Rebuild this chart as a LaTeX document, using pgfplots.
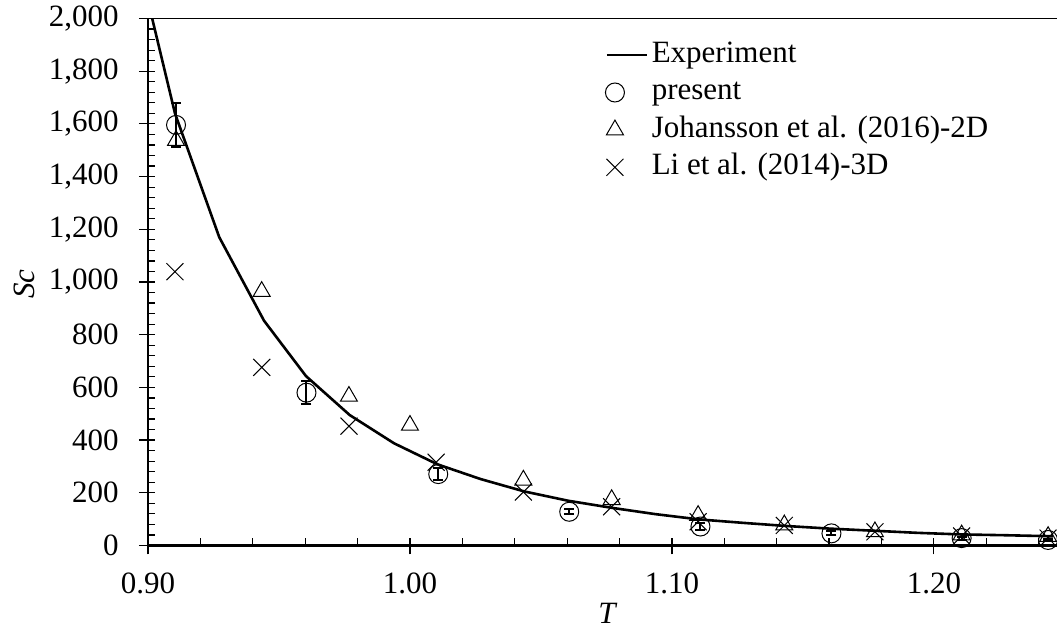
\documentclass[border=0pt]{standalone}
\usepackage{fontspec}
\setmainfont{Liberation Serif}
\usepackage{pgfplots}
\pgfplotsset{compat=1.18}
\pgfplotsset{
  lineleg/.style={legend image code/.code={\draw[##1] (0pt,0pt) -- (20pt,0pt);}},
  markleg/.style={legend image code/.code={\path (0pt,0pt) (20pt,0pt);
     \draw[mark repeat=2, mark phase=2, ##1] plot coordinates {(0pt,0pt) (4pt,0pt) (20pt,0pt)};}},
}
\begin{document}
\begin{tikzpicture}[font=\fontsize{15.5pt}{18.6pt}\selectfont]
\useasboundingbox (-74pt,-42.25pt) rectangle (454.5pt,272.75pt);
\begin{axis}[
  at={(0pt,0pt)}, anchor=south west,
  scale only axis, width=454.5pt, height=263.5pt,
  xmin=0.9, xmax=1.247, ymin=0, ymax=2000,
  axis x line*=bottom, axis y line*=left,
  x axis line style={-, line width=1.1pt},
  y axis line style={-, line width=1.1pt},
  xtick={0.9,1.0,1.1,1.2},
  minor xtick={0.92,0.94,0.96,0.98,1.02,1.04,1.06,1.08,1.12,1.14,1.16,1.18,1.22,1.24},
  ytick={0,200,400,600,800,1000,1200,1400,1600,1800,2000},
  minor y tick num=4,
  tick align=inside,
  major tick length=3.5pt, minor tick length=3.5pt,
  tick style={line width=0.6pt, black},
  extra x ticks={0.9,1.0,1.1,1.2}, extra x tick labels={},
  extra y ticks={0,200,400,600,800,1000,1200,1400,1600,1800,2000}, extra y tick labels={},
  extra tick style={tick align=outside, major tick length=4.5pt},
  xticklabel style={font=\fontsize{15.5pt}{18.6pt}\selectfont, inner sep=0pt, yshift=-13.5pt,
    /pgf/number format/.cd, fixed, fixed zerofill, precision=2, assume math mode=true},
  yticklabel style={font=\fontsize{15.5pt}{18.6pt}\selectfont, inner sep=0pt, xshift=-14.5pt,
    /pgf/number format/.cd, fixed, 1000 sep={,}, assume math mode=true},
  scaled ticks=false,
  xlabel={\textit{T}},
  xlabel style={at={(axis description cs:0.506,0)}, anchor=north, inner sep=0pt, yshift=-28.9pt,
    font=\fontsize{15.5pt}{18.6pt}\selectfont},
  ylabel={\textit{Sc}},
  ylabel style={at={(axis description cs:-0.1243,0.496)}, anchor=south, inner sep=0pt,
    font=\fontsize{15.5pt}{18.6pt}\selectfont},
  clip mode=individual,
  legend style={at={(0.5028,0.9668)}, anchor=north west, draw=none, fill=none,
    inner sep=0pt, row sep=0pt, column sep=0pt,
    font=\fontsize{15.5pt}{18.6pt}\selectfont,
    nodes={inner sep=1.75pt, text height=11.2pt, text depth=4pt}},
  legend cell align=left,
]
\addplot[black, line width=1.3pt, mark=none, lineleg]
  coordinates {
  (0.9016,2000) (0.9103,1640) (0.9272,1170) (0.9443,853) (0.9603,643)
  (0.977,495) (0.9939,388) (1.0105,308) (1.027,252) (1.0437,205)
  (1.0603,170) (1.077,143) (1.0937,119) (1.1103,99) (1.127,86)
  (1.1437,74) (1.1603,64) (1.177,56) (1.1937,48) (1.2103,42)
  (1.227,39) (1.2454,35)
  };
\addlegendentry{Experiment}
\addplot[black, only marks, mark=o, mark size=4.75pt, mark options={line width=0.5pt}, markleg,
  error bars/.cd, y dir=both, y explicit,
  error bar style={line width=1pt},
  error mark options={rotate=90, mark size=2.5pt, line width=1pt}]
  coordinates {
  (0.9107,1596) +- (0,82)
  (0.9605,580) +- (0,44)
  (1.0108,271) +- (0,22)
  (1.0608,128) +- (0,9)
  (1.1109,72) +- (0,13)
  (1.1609,46) +- (0,8)
  (1.2106,28) +- (0,6)
  (1.2436,21) +- (0,5)
  };
\addlegendentry{present}
\addplot[black, only marks, mark=triangle, mark size=4.9pt, mark options={line width=0.5pt}, markleg]
  coordinates {
  (0.9107,1537) (0.9434,964) (0.9767,566) (1.0,456) (1.0433,248)
  (1.077,174) (1.11,114) (1.1429,78) (1.1775,52) (1.2106,40) (1.2436,34)
  };
\addlegendentry{Johansson et al. (2016)-2D}
\addplot[black, only marks, mark=x, mark size=6pt, mark options={line width=0.5pt}, markleg]
  coordinates {
  (0.9103,1039) (0.9434,676) (0.9767,453) (1.010,316) (1.0433,203)
  (1.077,147) (1.11,90) (1.1429,76) (1.1775,52) (1.2106,36) (1.2436,28)
  };
\addlegendentry{Li et al. (2014)-3D}
\draw[line width=0.6pt] (rel axis cs:0,1) -- (rel axis cs:1,1);
\end{axis}
\end{tikzpicture}
\end{document}
